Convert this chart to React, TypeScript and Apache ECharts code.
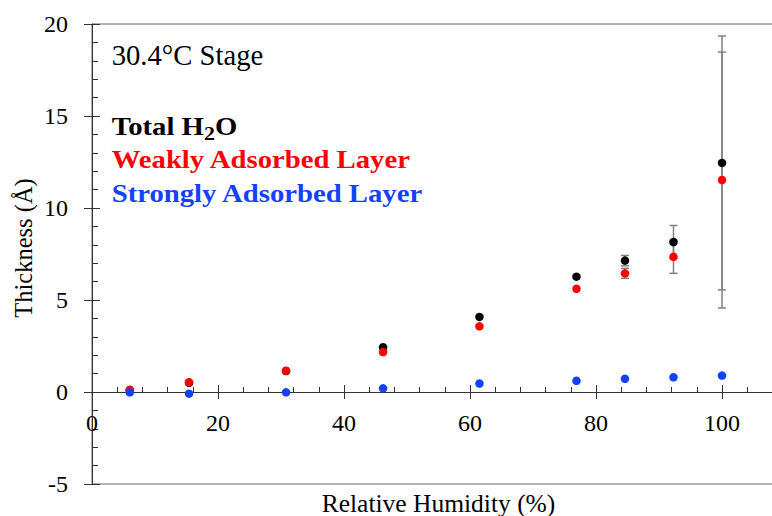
import React, { useEffect, useRef } from "react";
import * as echarts from "echarts";

// Relative humidity (%) of each measurement
const humidity = [6, 15.4, 30.8, 46.2, 61.5, 76.9, 84.6, 92.3, 100];
// Thickness (Å)
const totalH2O = [0.1, 0.5, 1.14, 2.43, 4.08, 6.27, 7.14, 8.15, 12.45];
const weaklyAdsorbed = [0.12, 0.53, 1.16, 2.17, 3.57, 5.61, 6.45, 7.35, 11.52];
const stronglyAdsorbed = [-0.02, -0.09, -0.02, 0.2, 0.46, 0.61, 0.72, 0.8, 0.89];
// Error (±) on total and weakly adsorbed
const totalErr = [0, 0, 0, 0, 0, 0, 0.28, 0.9, 6.9];
const weakErr = [0, 0, 0, 0, 0, 0, 0.27, 0.9, 6.95];

const xTicks = [0, 20, 40, 60, 80, 100];
const yTicks = [-5, 0, 5, 10, 15, 20];

const SERIF = "Liberation Serif";
const BLACK = "#000000";
const RED = "#ff0000";
const BLUE = "#1440ff";
const AXIS = "#333333";

function measure(text: string, font: string): number {
  const c = document.createElement("canvas").getContext("2d");
  if (!c) return text.length * 12;
  c.font = font;
  return c.measureText(text).width;
}

export default function App() {
  const ref = useRef<HTMLDivElement>(null);

  useEffect(() => {
    if (!ref.current) return;
    const chart = echarts.init(ref.current, undefined, { renderer: "svg" });

    const errData: number[][] = [];
    humidity.forEach((x, i) => {
      if (totalErr[i] > 0) errData.push([x, totalH2O[i], totalErr[i]]);
      if (weakErr[i] > 0) errData.push([x, weaklyAdsorbed[i], weakErr[i]]);
    });

    const pair = (ys: number[]) => humidity.map((x, i) => [x, ys[i]]);

    const cssFam = `"${SERIF}"`;
    const legendFont = `bold 25px ${cssFam}`;
    const sxLegend = 300 / measure("Weakly Adsorbed Layer", legendFont);
    const stageFont = `29px ${cssFam}`;
    const sxStage = 151.7 / measure("30.4°C Stage", stageFont);
    const wTotalH = measure("Total H", legendFont) * sxLegend;
    const subFont = `bold 19px ${cssFam}`;
    const w2 = measure("2", subFont) * sxLegend;

    const textLeft = 111.7;

    const mkText = (
      text: string,
      x: number,
      y: number,
      fontSize: number,
      bold: boolean,
      color: string,
      sx: number
    ) => ({
      type: "text",
      x,
      y,
      scaleX: sx,
      silent: true,
      style: {
        text,
        fontFamily: SERIF,
        fontSize,
        fontWeight: bold ? "bold" : "normal",
        fill: color,
        align: "left",
        verticalAlign: "middle",
      },
    });

    const xMin = xTicks[0];
    const yMin = yTicks[0];
    const yMax = yTicks[yTicks.length - 1];

    const baseX = {
      type: "value",
      min: xMin,
      max: 120,
      interval: 20,
      splitLine: { show: false },
    };
    const baseY = {
      type: "value",
      min: yMin,
      max: yMax,
      interval: 5,
      splitLine: { show: false },
    };

    chart.setOption({
      animation: false,
      backgroundColor: "#ffffff",
      grid: {
        left: 92,
        right: -76,
        top: 24,
        bottom: 32,
        containLabel: false,
        outerBoundsMode: "none",
        show: true,
        borderColor: "#666666",
        borderWidth: 1,
        backgroundColor: "transparent",
      },
      xAxis: [
        {
          // labels + title, anchored at the grid's bottom edge
          ...baseX,
          position: "bottom",
          axisLine: { show: false, onZero: false },
          axisTick: { show: false },
          minorTick: { show: false },
          axisLabel: {
            margin: -73,
            fontFamily: SERIF,
            fontSize: 24,
            color: "#000000",
            showMaxLabel: false,
          },
          name: "Relative Humidity (%)",
          nameLocation: "middle",
          nameGap: 6,
          nameMoveOverlap: false,
          nameTextStyle: {
            fontFamily: SERIF,
            fontSize: 25.5,
            color: "#000000",
            padding: [0, 63, 0, 0],
          },
        },
        {
          // downward half of the major ticks at y = 0
          ...baseX,
          position: "top",
          axisLine: { show: false, onZero: true },
          axisTick: { show: true, inside: true, length: 7, lineStyle: { color: AXIS } },
          minorTick: { show: false },
          axisLabel: { show: false },
        },
        {
          // axis line at y = 0 with upward ticks and minor ticks
          ...baseX,
          position: "bottom",
          axisLine: { show: true, onZero: true, lineStyle: { color: AXIS, width: 1 } },
          axisTick: { show: true, inside: true, length: 7, lineStyle: { color: AXIS } },
          minorTick: { show: true, splitNumber: 5, length: 5, lineStyle: { color: AXIS } },
          axisLabel: { show: false },
        },
      ],
      yAxis: [
        {
          ...baseY,
          position: "left",
          axisLine: { show: true, onZero: false, lineStyle: { color: AXIS, width: 1 } },
          axisTick: { show: true, inside: true, length: 8, lineStyle: { color: AXIS } },
          minorTick: { show: true, splitNumber: 5, length: 6, lineStyle: { color: AXIS } },
          axisLabel: {
            margin: 24,
            fontFamily: SERIF,
            fontSize: 24,
            color: "#000000",
          },
          name: "Thickness (Å)",
          nameLocation: "middle",
          nameRotate: 90,
          nameGap: 56,
          nameMoveOverlap: false,
          nameTextStyle: {
            fontFamily: SERIF,
            fontSize: 24.5,
            color: "#000000",
            padding: [0, 0, 0, 12],
          },
        },
        {
          ...baseY,
          position: "left",
          axisLine: { show: false, onZero: false },
          axisTick: { show: true, inside: false, length: 8, lineStyle: { color: AXIS } },
          minorTick: { show: false },
          axisLabel: { show: false },
        },
      ],
      graphic: [
        mkText("30.4°C Stage", textLeft, 54.5, 29, false, BLACK, sxStage),
        mkText("Total H", textLeft, 127, 25, true, BLACK, sxLegend),
        mkText("2", textLeft + wTotalH, 134, 19, true, BLACK, sxLegend),
        mkText("O", textLeft + wTotalH + w2, 127, 25, true, BLACK, sxLegend),
        mkText("Weakly Adsorbed Layer", textLeft, 160, 25, true, RED, sxLegend),
        mkText("Strongly Adsorbed Layer", textLeft, 194, 25, true, BLUE, sxLegend),
      ],
      series: [
        {
          type: "custom",
          xAxisIndex: 0,
          yAxisIndex: 0,
          silent: true,
          data: errData,
          renderItem: (params: any, api: any) => {
            const x = api.value(0);
            const y = api.value(1);
            const e = api.value(2);
            const top = api.coord([x, y + e]);
            const bot = api.coord([x, y - e]);
            const hw = 4;
            const style = { stroke: "#808080", lineWidth: 1.5 };
            return {
              type: "group",
              children: [
                { type: "line", shape: { x1: top[0], y1: top[1], x2: bot[0], y2: bot[1] }, style },
                { type: "line", shape: { x1: top[0] - hw, y1: top[1], x2: top[0] + hw, y2: top[1] }, style },
                { type: "line", shape: { x1: bot[0] - hw, y1: bot[1], x2: bot[0] + hw, y2: bot[1] }, style },
              ],
            };
          },
        },
        {
          name: "Total H2O",
          type: "scatter",
          symbolSize: 8.5,
          itemStyle: { color: BLACK, opacity: 1 },
          data: pair(totalH2O),
          silent: true,
        },
        {
          name: "Weakly Adsorbed Layer",
          type: "scatter",
          symbolSize: 8.5,
          itemStyle: { color: RED, opacity: 1 },
          data: pair(weaklyAdsorbed),
          silent: true,
        },
        {
          name: "Strongly Adsorbed Layer",
          type: "scatter",
          symbolSize: 8.5,
          itemStyle: { color: BLUE, opacity: 1 },
          data: pair(stronglyAdsorbed),
          silent: true,
        },
      ],
    });

    return () => chart.dispose();
  }, []);

  return (
    <div
      ref={ref}
      style={{
        position: "fixed",
        left: 0,
        top: 0,
        width: 772,
        height: 516,
        overflow: "hidden",
        background: "#ffffff",
      }}
    />
  );
}
